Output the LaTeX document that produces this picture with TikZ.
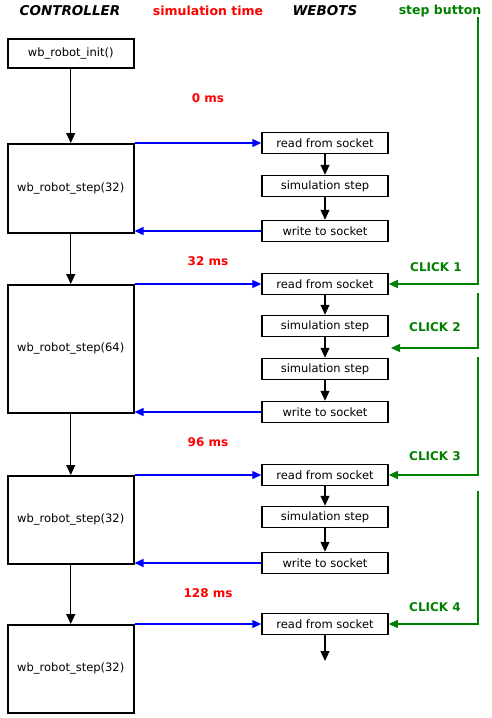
\documentclass[tikz,border=0pt]{standalone}
\usepackage{fontspec}
\setmainfont{DejaVu Sans}
\usetikzlibrary{arrows.meta}
\definecolor{stepgreen}{RGB}{0,128,0}
\tikzset{
  ctrlbox/.style={draw, line width=1.5pt, inner sep=0pt, minimum width=126pt,
    anchor=north west, font=\fontsize{11.5}{13}\selectfont},
  wbbox/.style={draw, line width=1.5pt, inner sep=0pt, minimum width=126pt,
    minimum height=21pt, font=\fontsize{11.5}{13}\selectfont},
  head/.style={font=\fontsize{12.5}{14}\selectfont\bfseries},
  timelabel/.style={text=red, font=\fontsize{12}{14}\selectfont\bfseries},
  clicklabel/.style={text=stepgreen, font=\fontsize{12}{14}\selectfont\bfseries},
  flow/.style={line width=1.1pt, -{Triangle[width=9pt,length=10pt]}},
  sock/.style={blue, line width=1.4pt, -{Triangle[width=8pt,length=9pt]}},
  click/.style={stepgreen, line width=1.2pt, -{Triangle[width=8pt,length=9pt]}}
}
\begin{document}
\begin{tikzpicture}[x=1pt,y=-1pt]
			\useasboundingbox (0,0) rectangle (492,718);

			% Kopfzeile
			\node[head, font=\fontsize{13.5}{15}\selectfont\bfseries\itshape] (hctrl) at (70,11) {CONTROLLER};
			\node[head, text=red] (htime) at (208,11) {simulation time};
			\node[head, font=\fontsize{13.5}{15}\selectfont\bfseries\itshape] (hwb) at (325,11) {WEBOTS};
			\node[head, text=stepgreen] (hbtn) at (440,11) {step button};

			% Controller
			\node[ctrlbox, minimum height=29pt] (init) at (7,38) {wb\_robot\_init()};
			\node[ctrlbox, minimum height=89pt] (step1) at (7,143) {wb\_robot\_step(32)};
			\node[ctrlbox, minimum height=128pt] (step2) at (7,284) {wb\_robot\_step(64)};
			\node[ctrlbox, minimum height=88pt] (step3) at (7,475) {wb\_robot\_step(32)};
			\node[ctrlbox, minimum height=88pt] (step4) at (7,624) {wb\_robot\_step(32)};

			\draw[flow] (init) -- (step1);
			\draw[flow] (step1) -- (step2);
			\draw[flow] (step2) -- (step3);
			\draw[flow] (step3) -- (step4);

			% Webots
			\node[wbbox] (read1) at (325,143) {read from socket};
			\node[wbbox] (sim1) at (325,186) {simulation step};
			\node[wbbox] (write1) at (325,231) {write to socket};

			\node[wbbox] (read2) at (325,284) {read from socket};
			\node[wbbox] (sim2) at (325,326) {simulation step};
			\node[wbbox] (sim3) at (325,369) {simulation step};
			\node[wbbox] (write2) at (325,412) {write to socket};

			\node[wbbox] (read3) at (325,475) {read from socket};
			\node[wbbox] (sim4) at (325,517) {simulation step};
			\node[wbbox] (write3) at (325,563) {write to socket};

			\node[wbbox] (read4) at (325,624) {read from socket};
			\coordinate (tail) at (325,661);

			\draw[flow] (read1) -- (sim1);
			\draw[flow] (sim1) -- (write1);
			\draw[flow] (read2) -- (sim2);
			\draw[flow] (sim2) -- (sim3);
			\draw[flow] (sim3) -- (write2);
			\draw[flow] (read3) -- (sim4);
			\draw[flow] (sim4) -- (write3);
			\draw[flow] (read4) -- (tail);

			% Socket
			\draw[sock] (read1.west -| step1.east) -- (read1.west);
			\draw[sock] (write1.west) -- (write1.west -| step1.east);
			\draw[sock] (read2.west -| step2.east) -- (read2.west);
			\draw[sock] (write2.west) -- (write2.west -| step2.east);
			\draw[sock] (read3.west -| step3.east) -- (read3.west);
			\draw[sock] (write3.west) -- (write3.west -| step3.east);
			\draw[sock] (read4.west -| step4.east) -- (read4.west);

			% Simulationszeit
			\node[timelabel] (t0) at (208,98) {0 ms};
			\node[timelabel] (t32) at (208,261) {32 ms};
			\node[timelabel] (t96) at (208,442) {96 ms};
			\node[timelabel] (t128) at (208,593) {128 ms};

			% Step-Knopf
			\coordinate (c1) at (478,17);
			\coordinate (c2) at (478,293);
			\coordinate (c2end) at (391,348);
			\coordinate (c3) at (478,357);
			\coordinate (c4) at (478,491);
			\draw[click] (c1) |- (read2.east);
			\draw[click] (c2) |- (c2end);
			\draw[click] (c3) |- (read3.east);
			\draw[click] (c4) |- (read4.east);

			\node[clicklabel] (k1) at (436,267) {CLICK 1};
			\node[clicklabel] (k2) at (435,327) {CLICK 2};
			\node[clicklabel] (k3) at (435,456) {CLICK 3};
			\node[clicklabel] (k4) at (435,607) {CLICK 4};

		\end{tikzpicture}
\end{document}
